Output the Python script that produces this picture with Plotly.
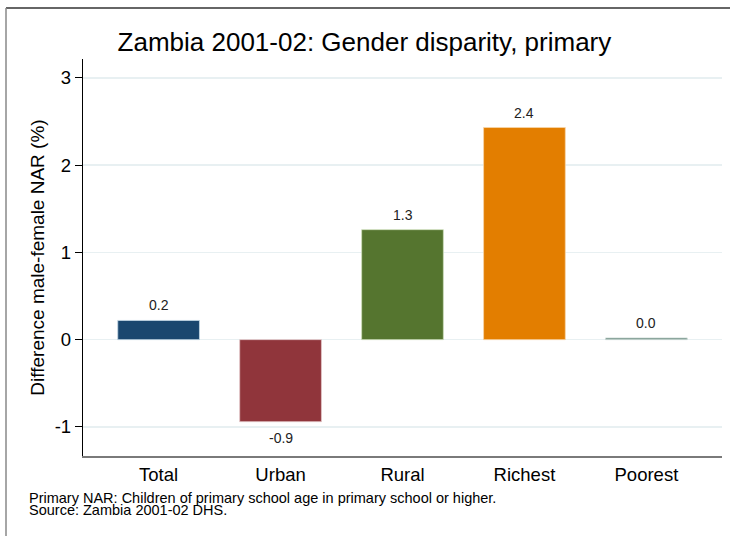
import plotly.graph_objects as go

categories = ["Total", "Urban", "Rural", "Richest", "Poorest"]
values = [0.22, -0.94, 1.26, 2.43, 0.02]
colors = ["#1a476f", "#90353b", "#55752f", "#e37e00", "#6e8e84"]
edge_colors = ["#c5d9e6", "#e2c6c8", "#cfe0bd", "#f7d6aa", "#cfdcd8"]
y_ticks = [-1, 0, 1, 2, 3]
title_text = "Zambia 2001-02: Gender disparity, primary"
y_title = "Difference male-female NAR (%)"
notes = ["Primary NAR: Children of primary school age in primary school or higher.",
         "Source: Zambia 2001-02 DHS."]

FONT = "Liberation Sans, Arial, sans-serif"

W, H = 730, 536
L, R, T, B = 83, 8, 59, 80
pw, ph = W - L - R, H - T - B

def px_x(p):
    return (p - L) / pw

def px_y(p):
    return (H - B - p) / ph

fig = go.Figure()
fig.add_trace(go.Bar(
    x=categories, y=values,
    marker=dict(color=colors, line=dict(color=edge_colors, width=0.8)),
    width=0.67,
    hoverinfo="skip",
))

for c, v in zip(categories, values):
    fig.add_annotation(
        x=c, y=v, text=f"{v:.1f}", showarrow=False,
        yanchor="bottom" if v >= 0 else "top",
        yshift=5 if v >= 0 else -6,
        font=dict(family=FONT, size=14, color="#222222"),
    )

for i, line in enumerate(notes):
    fig.add_annotation(
        xref="paper", yref="paper",
        x=px_x(27), y=px_y(498 + 12 * i),
        xanchor="left", yanchor="middle",
        text=line, showarrow=False,
        font=dict(family=FONT, size=14.5, color="#000000"),
    )

# outer frame (top and left edges visible)
fig.add_shape(type="line", xref="paper", yref="paper",
              x0=px_x(6), x1=px_x(740), y0=px_y(8), y1=px_y(8),
              line=dict(color="#333333", width=1.5))
fig.add_shape(type="line", xref="paper", yref="paper",
              x0=px_x(6), x1=px_x(6), y0=px_y(8), y1=px_y(545),
              line=dict(color="#888888", width=1.5))

fig.update_layout(
    width=W, height=H,
    margin=dict(l=L, r=R, t=T, b=B, autoexpand=False),
    paper_bgcolor="white", plot_bgcolor="white",
    showlegend=False,
    title=dict(text=title_text, x=px_x(402), xanchor="center",
               y=1 - 42 / H, yanchor="middle",
               font=dict(family=FONT, size=26, color="#000000")),
    xaxis=dict(
        range=[-0.62, 4.62],
        showline=True, linecolor="#7a7a7a", linewidth=2,
        showgrid=False, ticks="", mirror=False,
        tickfont=dict(family=FONT, size=18.5, color="#000000"),
        ticklabelstandoff=1,
    ),
    yaxis=dict(
        range=[-1.333, 3.215],
        tickvals=y_ticks, ticktext=[str(t) for t in y_ticks],
        showline=True, linecolor="#000000", linewidth=1.2,
        ticks="outside", ticklen=7, tickcolor="#000000", tickwidth=1,
        showgrid=True, gridcolor="#e8f0f2", gridwidth=1.5,
        zeroline=False,
        tickfont=dict(family=FONT, size=18.5, color="#000000"),
        title=dict(text=y_title, font=dict(family=FONT, size=19, color="#000000"),
                   standoff=5),
    ),
)

fig.write_html(
    "out.html",
    config={"displayModeBar": False, "staticPlot": True},
    post_script="document.body.style.margin='0px';document.body.style.overflow='hidden';",
)
